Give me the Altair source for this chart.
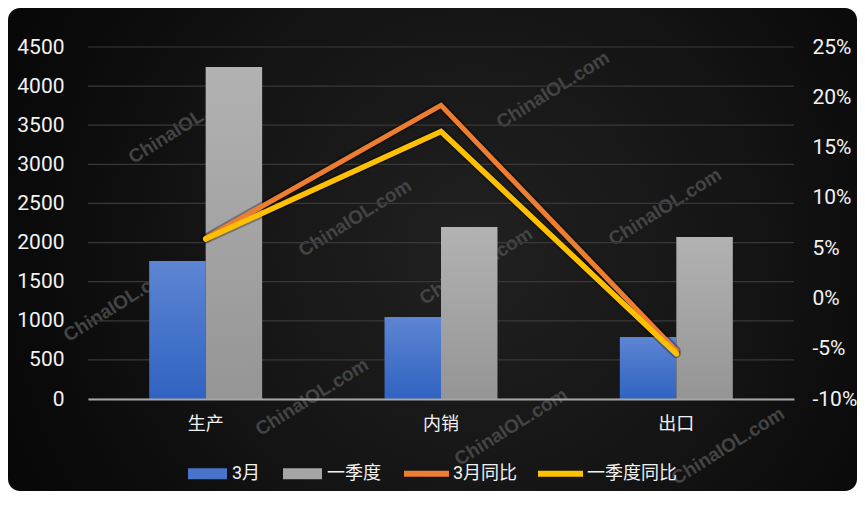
import altair as alt
import pandas as pd

# ---- data ----
categories = ["生产", "内销", "出口"]
bar_series = ["3月", "一季度"]
line_series = ["3月同比", "一季度同比"]
march_values = [1764, 1048, 793]
q1_values = [4244, 2199, 2071]
march_yoy = [6.0, 19.2, -5.2]
q1_yoy = [5.9, 16.6, -5.5]
left_ticks = [0, 500, 1000, 1500, 2000, 2500, 3000, 3500, 4000, 4500]
right_ticks = [-10, -5, 0, 5, 10, 15, 20, 25]
watermark_text = "ChinaIOL.com"

bars_df = pd.DataFrame({
    "category": categories * 2,
    "series": [bar_series[0]] * 3 + [bar_series[1]] * 3,
    "value": march_values + q1_values,
})
lines_df = pd.DataFrame({
    "category": categories * 2,
    "series": [line_series[0]] * 3 + [line_series[1]] * 3,
    "yoy": march_yoy + q1_yoy,
})
grid_df = pd.DataFrame({"value": left_ticks})

FONT = "Roboto, Noto Sans CJK SC, sans-serif"
LABEL = "#f2f2f2"
W, H = 706, 352
PAD = {"left": 80, "top": 39, "right": 63, "bottom": 94}

x_enc = alt.X(
    "category:N", sort=categories, title=None,
    scale=alt.Scale(paddingInner=0.52, paddingOuter=0.26),
    axis=alt.Axis(labelAngle=0, labelFontSize=18, labelColor=LABEL, labelFont=FONT,
                  labelPadding=16, ticks=False, domainColor="#a6a6a6", domainWidth=2,
                  grid=False, zindex=1),
)
x_off = alt.XOffset("series:N", scale=alt.Scale(domain=bar_series, paddingInner=0, paddingOuter=0))
y_left = alt.Y(
    "value:Q", title=None,
    scale=alt.Scale(domain=[0, 4500], nice=False),
    axis=alt.Axis(values=left_ticks, format="d", labelFontSize=21, labelColor=LABEL,
                  labelFont=FONT, labelPadding=24, ticks=False, domain=False, grid=False,
                  labelFlush=False, zindex=1),
)
y_right = alt.Y(
    "yoy:Q", title=None,
    scale=alt.Scale(domain=[-10, 25], nice=False),
    axis=alt.Axis(orient="right", values=right_ticks, labelExpr="datum.value + '%'",
                  labelFontSize=21, labelColor=LABEL, labelFont=FONT, labelPadding=18,
                  ticks=False, domain=False, grid=False, labelFlush=False, zindex=1),
)

blue_grad = alt.LinearGradient(gradient="linear", x1=0, x2=0, y1=0, y2=1, stops=[
    alt.GradientStop(color="#5d85d3", offset=0),
    alt.GradientStop(color="#3063c1", offset=1)])
gray_grad = alt.LinearGradient(gradient="linear", x1=0, x2=0, y1=0, y2=1, stops=[
    alt.GradientStop(color="#b2b2b2", offset=0),
    alt.GradientStop(color="#959595", offset=1)])
bg_grad = alt.RadialGradient(gradient="radial", x1=0.55, y1=0.5, r1=0, x2=0.55, y2=0.5, r2=0.72, stops=[
    alt.GradientStop(color="#212121", offset=0),
    alt.GradientStop(color="#1b1b1b", offset=0.2),
    alt.GradientStop(color="#141414", offset=0.45),
    alt.GradientStop(color="#0b0b0b", offset=0.7),
    alt.GradientStop(color="#040404", offset=1)])

one = alt.Data(values=[{}])

bg = alt.Chart(one).mark_rect(cornerRadius=12, fill=bg_grad).encode(
    x=alt.value(-PAD["left"]), x2=alt.value(W + PAD["right"]),
    y=alt.value(-PAD["top"]), y2=alt.value(H + PAD["bottom"] - 2))

wm_centers = [(97, 78), (465, 43), (267, 171), (577, 160), (32, 256),
              (388, 219), (224, 350), (423, 380), (640, 399)]
wms = [
    alt.Chart(one).mark_text(text=watermark_text, angle=328, fontSize=19, fontWeight="bold",
                             font="Liberation Sans", color="#444444", align="center",
                             baseline="middle").encode(x=alt.value(px), y=alt.value(py))
    for px, py in wm_centers
]

grid = alt.Chart(grid_df).mark_rule(color="#383838", strokeWidth=1.2).encode(y=y_left)

bar_march = alt.Chart(bars_df).transform_filter(alt.datum.series == bar_series[0]).mark_bar(
    fill=blue_grad).encode(x=x_enc, xOffset=x_off, y=y_left)
bar_q1 = alt.Chart(bars_df).transform_filter(alt.datum.series == bar_series[1]).mark_bar(
    fill=gray_grad).encode(x=x_enc, xOffset=x_off, y=y_left)

bar_legend = alt.Chart(bars_df).transform_filter("false").mark_square(opacity=1).encode(
    x=x_enc, y=y_left,
    fill=alt.Fill("series:N", scale=alt.Scale(domain=bar_series, range=["#4a74c9", "#a5a5a5"]),
                  legend=alt.Legend(orient="none", legendX=100, legendY=407, direction="horizontal",
                                    title=None, symbolType="M-1,-0.28H1V0.28H-1Z", symbolSize=1521,
                                    symbolStrokeWidth=0, symbolOpacity=1, labelFontSize=18,
                                    labelColor=LABEL, labelFont=FONT, labelOffset=5,
                                    columnPadding=22, padding=0)),
)

color_line = alt.Color(
    "series:N", scale=alt.Scale(domain=line_series, range=["#ED7D31", "#FFC000"]),
    legend=alt.Legend(orient="none", legendX=313, legendY=401, direction="horizontal", title=None,
                      symbolType="stroke", symbolSize=2025, symbolStrokeWidth=6,
                      labelFontSize=18, labelColor=LABEL, labelFont=FONT, labelOffset=1,
                      columnPadding=8, padding=0),
)

shadow = alt.Chart(lines_df).mark_line(strokeWidth=9, color="#000000", opacity=0.3,
                                       strokeCap="round").encode(
    x=x_enc, y=y_right, detail="series:N")
line_march = alt.Chart(lines_df).transform_filter(alt.datum.series == line_series[0]).mark_line(
    strokeWidth=5, strokeCap="round", strokeJoin="miter").encode(x=x_enc, y=y_right, color=color_line)
line_q1 = alt.Chart(lines_df).transform_filter(alt.datum.series == line_series[1]).mark_line(
    strokeWidth=5.5, strokeCap="round", strokeJoin="miter").encode(x=x_enc, y=y_right, color=color_line)

base = alt.layer(bg, *wms, grid, bar_march, bar_q1, bar_legend)
lines = alt.layer(shadow, line_march, line_q1)

chart = alt.layer(base, lines).resolve_scale(y="independent").properties(
    width=W, height=H,
    autosize=alt.AutoSizeParams(type="none"),
    padding=PAD,
    background="white",
).configure_view(strokeWidth=0)

chart.save("out.html", embed_options={"renderer": "svg", "actions": False})
